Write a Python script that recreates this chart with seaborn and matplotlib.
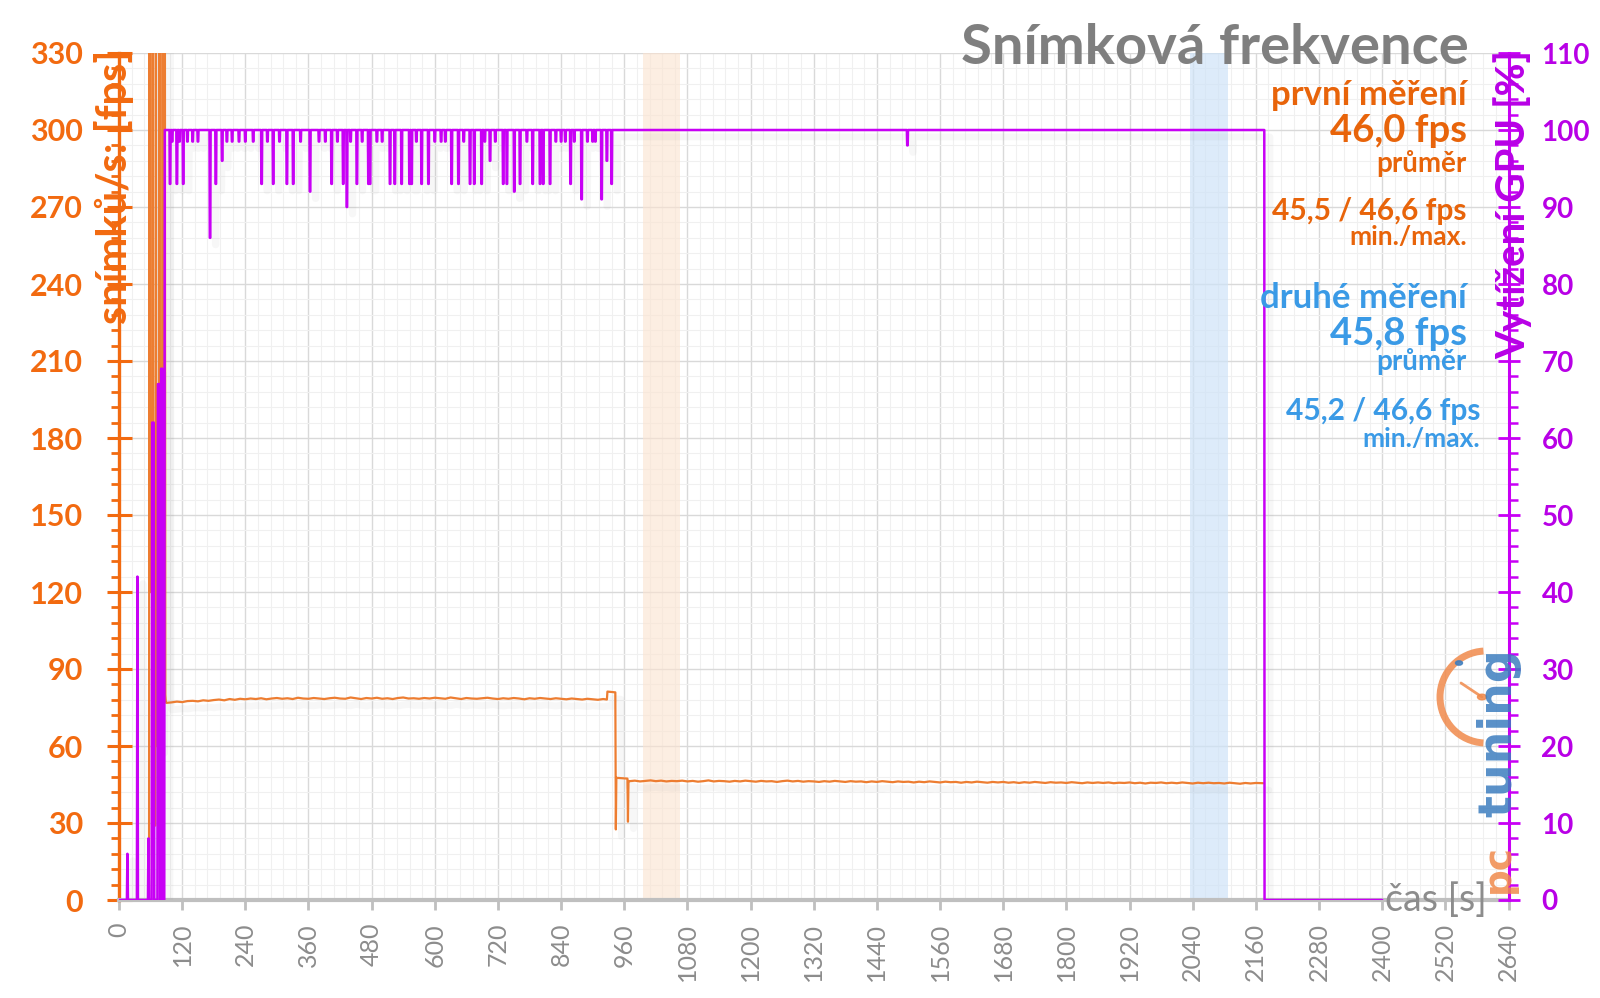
import numpy as np
import matplotlib
matplotlib.use("Agg")
import matplotlib.pyplot as plt
import matplotlib.patheffects as pe
from matplotlib.ticker import MultipleLocator
from matplotlib.patches import Arc, Circle
from matplotlib.lines import Line2D
import seaborn as sns

# ---------------- data ----------------
# frames per second (left axis)
fps_start_t = [57, 58, 59, 63, 64, 65, 69, 70, 71, 76, 77, 78, 82, 83, 84, 86, 87, 88, 89]
fps_start_v = [0, 420, 120, 120, 420, 29, 29, 420, 60, 60, 420, 150, 150, 420, 95, 95, 420, 80, 77]

fps_seg1_t = list(range(90, 930, 10))
fps_seg1_v = [76.8, 77.0, 77.3, 77.1, 77.5, 77.6, 77.4, 77.8, 77.6, 77.9,
              78.1, 77.8, 78.3, 78.0, 78.4, 78.2, 78.5, 78.3, 78.6, 78.2,
              78.5, 78.7, 78.4, 78.6, 78.3, 78.8, 78.5, 78.4, 78.7, 78.5,
              78.3, 78.6, 78.8, 78.5, 78.4, 78.9, 78.6, 78.3, 78.7, 78.5,
              78.8, 78.4, 78.6, 78.3, 78.7, 78.9, 78.5, 78.6, 78.4, 78.7,
              78.5, 78.8, 78.6, 78.4, 78.9, 78.6, 78.3, 78.7, 78.5, 78.4,
              78.6, 78.8, 78.5, 78.3, 78.6, 78.4, 78.7, 78.5, 78.2, 78.6,
              78.4, 78.7, 78.5, 78.3, 78.6, 78.4, 78.2, 78.5, 78.3, 78.1,
              78.4, 78.2, 78.0, 78.3]

fps_mid_t = [927, 928, 943, 944, 945, 966, 967, 968]
fps_mid_v = [78.1, 81.2, 80.9, 27.5, 47.6, 47.3, 30.5, 46.4]

fps_seg2_t = list(range(970, 2180, 10))
fps_seg2_v = [46.3, 46.5, 46.2, 46.4, 46.6, 46.3, 46.5, 46.2, 46.4, 46.3,
              46.5, 46.2, 46.4, 46.1, 46.3, 46.6, 46.2, 46.4, 46.3, 46.1,
              46.4, 46.2, 46.5, 46.3, 46.1, 46.4, 46.2, 46.3, 46.0, 46.3,
              46.5, 46.2, 46.4, 46.1, 46.3, 46.2, 46.0, 46.3, 46.1, 46.4,
              46.2, 46.0, 46.3, 46.1, 46.2, 45.9, 46.2, 46.0, 46.3, 46.1,
              45.9, 46.2, 46.0, 46.1, 45.8, 46.1, 45.9, 46.2, 46.0, 45.8,
              46.1, 45.9, 46.0, 45.7, 46.0, 45.8, 46.1, 45.9, 45.7, 46.0,
              45.8, 46.0, 45.7, 45.9, 45.6, 45.9, 45.7, 46.0, 45.8, 45.6,
              45.9, 45.7, 45.8, 45.6, 45.9, 45.7, 45.5, 45.8, 45.6, 45.8,
              45.6, 45.8, 45.5, 45.7, 45.6, 45.8, 45.5, 45.7, 45.4, 45.7,
              45.6, 45.8, 45.5, 45.7, 45.5, 45.8, 45.6, 45.4, 45.7, 45.5,
              45.7, 45.5, 45.6, 45.4, 45.7, 45.5, 45.3, 45.6, 45.4, 45.6,
              45.5]
fps_end_t = [2174]
fps_end_v = [45.5]

# GPU load in % (right axis)
gpu_start_t = [0, 15, 16, 17, 34, 35, 36, 55, 56, 57, 62, 63, 66, 67, 73, 74, 77, 78, 79, 80, 82, 83, 86, 87]
gpu_start_v = [0, 0, 6, 0, 0, 42, 0, 0, 8, 0, 0, 62, 62, 0, 0, 67, 67, 0, 0, 69, 69, 0, 0, 100]
gpu_dip_t = [97, 110, 122, 173, 184, 196, 271, 293, 319, 331, 363, 404, 426, 433, 452,
             474, 477, 515, 524, 537, 552, 556, 575, 588, 632, 645, 667, 675, 689, 705,
             730, 737, 751, 762, 786, 800, 806, 819, 858, 879, 917, 927, 936, 1498]
gpu_dip_v = [93, 93, 93, 86, 93, 96, 93, 93, 93, 93, 92, 93, 93, 90, 93,
             93, 93, 93, 93, 93, 93, 93, 93, 93, 93, 93, 93, 93, 93, 96,
             93, 93, 92, 93, 93, 93, 93, 93, 93, 91, 91, 96, 93, 98]
gpu_notch_t = [101, 115, 130, 140, 150, 205, 215, 228, 240, 255, 282, 305, 345, 380, 392,
               415, 440, 462, 490, 500, 565, 600, 612, 620, 655, 695, 715, 775, 830, 840,
               848, 865, 890, 900, 905]
gpu_notch_v = [98.5] * len(gpu_notch_t)
gpu_end_t = [2176, 2176.5, 2400]
gpu_end_v = [100, 0, 0]

# annotation texts
title_text = "Snímková frekvence"
first_lines = ["první měření", "46,0 fps", "průměr", "45,5 / 46,6 fps", "min./max."]
second_lines = ["druhé měření", "45,8 fps", "průměr", "45,2 / 46,6 fps", "min./max."]

# ---------------- assemble series ----------------
fps_t = fps_start_t + fps_seg1_t + fps_mid_t + fps_seg2_t + fps_end_t
fps_v = fps_start_v + fps_seg1_v + fps_mid_v + fps_seg2_v + fps_end_v

events = sorted(list(zip(gpu_dip_t, gpu_dip_v)) + list(zip(gpu_notch_t, gpu_notch_v)))
gpu_t = list(gpu_start_t)
gpu_v = list(gpu_start_v)
for et, ev in events:
    gpu_t += [et - 1.1, et - 0.5, et + 0.5, et + 1.1]
    gpu_v += [100, ev, ev, 100]
gpu_t += gpu_end_t
gpu_v += gpu_end_v

# ---------------- style ----------------
sns.set_theme(style="white")
plt.rcParams["font.family"] = ["Lato", "DejaVu Sans"]

ORANGE_TXT = "#F26A10"
ORANGE_LINE = "#ED7D31"
MAGENTA = "#C800F5"
MAGENTA_TXT = "#B800E6"
BLUE = "#3A9AE6"
GRAY_T = "#7F7F7F"
GRAY_X = "#8C8C8C"

W, H = 1600, 998
fig = plt.figure(figsize=(16, 9.98), dpi=100)
fig.patch.set_facecolor("white")

def fx(px):
    return px / W

def fy(py):
    return 1 - py / H

L, R, T, B = 119, 1508.5, 53, 900
ax = fig.add_axes([fx(L), fy(B), (R - L) / W, (B - T) / H])
ax.set_facecolor("white")
ax.set_xlim(0, 2640)
ax.set_ylim(0, 330)

# grid
ax.set_axisbelow(True)
ax.xaxis.set_major_locator(MultipleLocator(120))
ax.xaxis.set_minor_locator(MultipleLocator(24))
ax.yaxis.set_major_locator(MultipleLocator(30))
ax.yaxis.set_minor_locator(MultipleLocator(6))
ax.grid(which="major", color="#D9D9D9", linewidth=1.0)
ax.grid(which="minor", color="#F0F0F0", linewidth=0.8)

# shaded measurement windows
ax.axvspan(996, 1066, color="#FBE3CF", alpha=0.6, zorder=1, lw=0)
ax.axvspan(2035, 2107, color="#CFE3F8", alpha=0.7, zorder=1, lw=0)

shadow = [pe.SimpleLineShadow(offset=(4, -5), shadow_color="gray", alpha=0.06, linewidth=5), pe.Normal()]

sns.lineplot(x=fps_t, y=fps_v, ax=ax, color=ORANGE_LINE, linewidth=1.6,
             estimator=None, sort=False, legend=False, zorder=3)
ax.get_lines()[-1].set_path_effects(shadow)

ax2 = ax.twinx()
ax2.set_ylim(0, 110)
ax2.yaxis.set_major_locator(MultipleLocator(10))
ax2.yaxis.set_minor_locator(MultipleLocator(2))
sns.lineplot(x=gpu_t, y=gpu_v, ax=ax2, color=MAGENTA, linewidth=1.8,
             estimator=None, sort=False, legend=False, zorder=3)
ax2.get_lines()[-1].set_path_effects(shadow)
ax2.set_xlim(0, 2640)
ax2.grid(False)

# spines
for s in ["top", "right"]:
    ax.spines[s].set_visible(False)
ax.spines["left"].set_color(ORANGE_TXT)
ax.spines["left"].set_linewidth(2.4)
ax.spines["bottom"].set_color("#BFBFBF")
ax.spines["bottom"].set_linewidth(3)
for s in ["top", "left", "bottom"]:
    ax2.spines[s].set_visible(False)
ax2.spines["right"].set_color(MAGENTA)
ax2.spines["right"].set_linewidth(2.2)

# ticks
ax.set_xticks(list(range(0, 2641, 120)))
ax.tick_params(axis="x", which="major", direction="out", length=7, width=2,
               color="#BFBFBF", labelcolor=GRAY_X, labelsize=18, pad=9.5,
               labelrotation=90, bottom=True)
ax.tick_params(axis="x", which="minor", length=0)
ax.tick_params(axis="y", which="major", direction="inout", length=18, width=2.2,
               color=ORANGE_TXT, labelcolor=ORANGE_TXT, labelsize=22, pad=17, left=True)
ax.tick_params(axis="y", which="minor", direction="out", length=6, width=2,
               color=ORANGE_TXT, left=True)
ax2.tick_params(axis="y", which="major", direction="inout", length=16.5, width=2,
                color=MAGENTA, labelcolor=MAGENTA_TXT, labelsize=20, pad=15.5, right=True)
ax2.tick_params(axis="y", which="minor", direction="out", length=6.5, width=1.8,
                color=MAGENTA, right=True)
for lbl in ax.get_yticklabels():
    lbl.set_fontweight("bold")
for lbl in ax2.get_yticklabels():
    lbl.set_fontweight("bold")
for lbl in ax.get_xticklabels():
    lbl.set_fontweight("normal")
ax.set_xlabel("")
ax.set_ylabel("")
ax2.set_ylabel("")

# axis titles
fig.text(fx(114), fy(50), "snímků/s: [fps]", rotation=90, ha="center", va="top",
         color=ORANGE_TXT, fontsize=30, fontweight="bold")
fig.text(fx(1513), fy(50), "Vytížení GPU [%]", rotation=90, ha="center", va="top",
         color=MAGENTA_TXT, fontsize=29, fontweight="bold")
fig.text(fx(1487), fy(911), "čas [s]", ha="right", va="baseline",
         color=GRAY_X, fontsize=27)

# title
fig.text(fx(1469), fy(64), title_text, ha="right", va="baseline",
         color=GRAY_T, fontsize=40.5, fontweight="bold")

# annotations
ORANGE_ANN = "#E8640A"
first_y = [105, 142, 172, 220, 245]
ann_sz = [25, 27.5, 20, 21.5, 19]
for txt, yy, sz in zip(first_lines, first_y, ann_sz):
    fig.text(fx(1467), fy(yy), txt, ha="right", va="baseline", color=ORANGE_ANN,
             fontsize=sz, fontweight="bold")
second_y = [308, 345, 370, 420, 447]
second_x = [1467, 1467, 1467, 1480, 1480]
for txt, yy, xx, sz in zip(second_lines, second_y, second_x, ann_sz):
    fig.text(fx(xx), fy(yy), txt, ha="right", va="baseline", color=BLUE,
             fontsize=sz, fontweight="bold")

# watermark logo
fig.text(fx(1499), fy(893), "pc", rotation=90, ha="center", va="bottom",
         color="#F08A4B", fontsize=27, fontweight="bold", alpha=0.85,
         family="DejaVu Sans")
fig.text(fx(1499), fy(817), "tuning", rotation=90, ha="center", va="bottom",
         color="#3C7DBF", fontsize=33, fontweight="bold", alpha=0.85,
         family="DejaVu Sans")
fig.add_artist(Arc((fx(1486), fy(697)), 92 / W, 92 / H, theta1=92, theta2=268,
                   transform=fig.transFigure, color="#F08A4B", lw=5, alpha=0.85))
fig.add_artist(Line2D([fx(1461), fx(1482)], [fy(683), fy(697)], transform=fig.transFigure,
                      color="#F08A4B", lw=2, alpha=0.85))
fig.add_artist(Circle((fx(1482), fy(697)), 4.5 / W, transform=fig.transFigure,
                      color="#F08A4B", alpha=0.85))
fig.add_artist(Circle((fx(1459), fy(663)), 3.5 / W, transform=fig.transFigure,
                      color="#3C7DBF", alpha=0.85))

fig.savefig("out.png", dpi=100, facecolor="white")
